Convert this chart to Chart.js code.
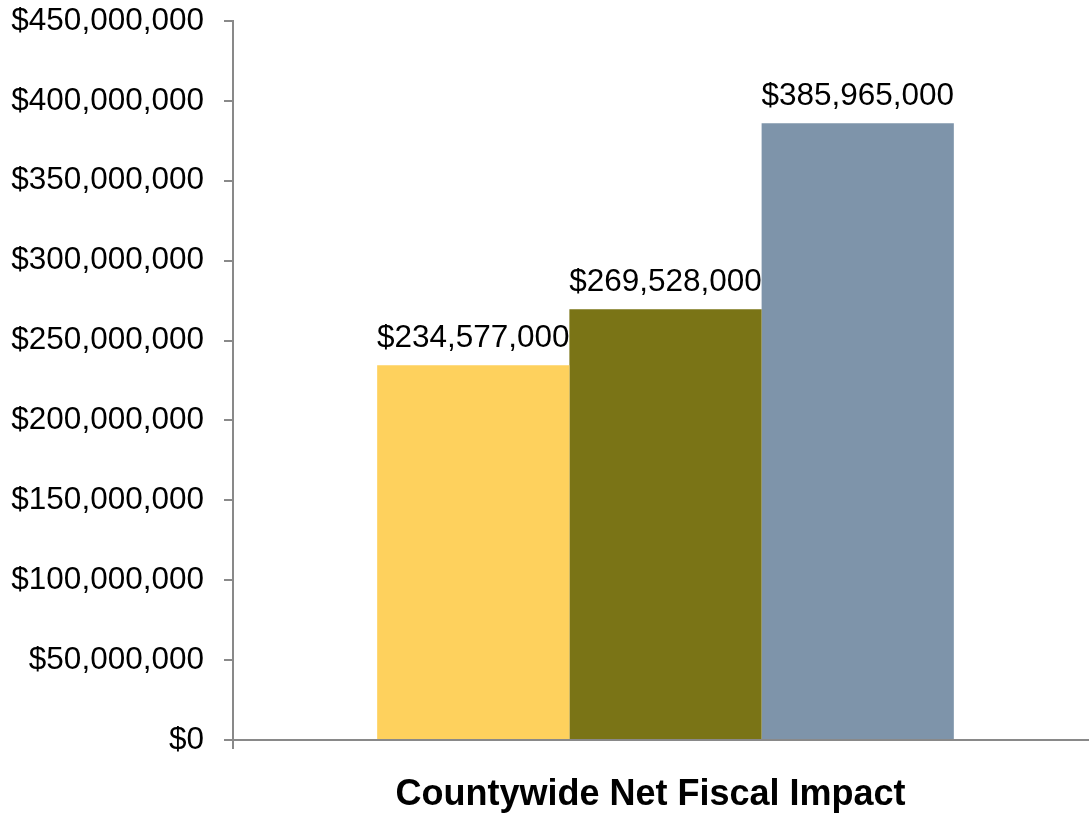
<!DOCTYPE html>
<html>
<head>
<meta charset="utf-8">
<script src="https://cdn.jsdelivr.net/npm/chart.js@4.4.1/dist/chart.umd.min.js"></script>
<style>
  html, body { margin: 0; padding: 0; background: #ffffff; overflow: hidden; }
  #wrap { width: 1098px; height: 814px; }
</style>
</head>
<body>
<div id="wrap"><canvas id="fiscalChart"></canvas></div>
<script>
// Data
const categories = ['Countywide Net Fiscal Impact'];
const seriesNames = ['Scenario 1', 'Scenario 2', 'Scenario 3'];
const seriesValues = [234577000, 269528000, 385965000];
const seriesColors = ['#FED15D', '#7A7416', '#7E94AA'];
const yTicks = [0, 50000000, 100000000, 150000000, 200000000, 250000000, 300000000, 350000000, 400000000, 450000000];

const axisGrey = '#898989';
const fmtMoney = (v) => '$' + Number(v).toLocaleString('en-US');

// Value labels above each bar
const barValueLabels = {
  id: 'barValueLabels',
  afterDatasetsDraw(chart) {
    const ctx = chart.ctx;
    ctx.save();
    ctx.font = '31.5px "Liberation Sans", Arial, sans-serif';
    ctx.fillStyle = '#000000';
    ctx.textAlign = 'center';
    ctx.textBaseline = 'alphabetic';
    chart.data.datasets.forEach((ds, i) => {
      chart.getDatasetMeta(i).data.forEach((bar, j) => {
        ctx.fillText(fmtMoney(ds.data[j]), bar.x, bar.y - 18);
      });
    });
    ctx.restore();
  }
};

const datasets = seriesNames.map((name, i) => ({
  label: name,
  data: [seriesValues[i]],
  backgroundColor: seriesColors[i],
  borderWidth: 0,
  barPercentage: 1,
  categoryPercentage: 2 / 3
}));

const ctx = document.getElementById('fiscalChart').getContext('2d');
new Chart(ctx, {
  type: 'bar',
  data: { labels: categories, datasets: datasets },
  plugins: [barValueLabels],
  options: {
    responsive: true,
    maintainAspectRatio: false,
    animation: false,
    layout: { padding: { top: 21, left: 0, right: 0, bottom: 0 } },
    plugins: {
      legend: { display: false },
      tooltip: { enabled: false }
    },
    scales: {
      x: {
        grid: { drawOnChartArea: false, drawTicks: true, tickLength: 9, color: axisGrey, lineWidth: 2 },
        border: { display: true, color: axisGrey, width: 2 },
        ticks: {
          color: '#000000',
          padding: 24,
          labelOffset: -15,
          font: { family: '"Liberation Sans", Arial, sans-serif', size: 36, weight: 'bold' }
        },
        afterFit: (axis) => {
          axis.height = 74;
          axis.paddingLeft = 0;
          axis.paddingRight = 0;
        }
      },
      y: {
        min: 0,
        max: 450000000,
        afterBuildTicks: (axis) => { axis.ticks = yTicks.map((v) => ({ value: v })); },
        grid: { drawOnChartArea: false, drawTicks: true, tickLength: 9, color: axisGrey, lineWidth: 2 },
        border: { display: true, color: axisGrey, width: 2 },
        ticks: {
          color: '#000000',
          padding: 20,
          font: { family: '"Liberation Sans", Arial, sans-serif', size: 31.5 },
          callback: (v) => fmtMoney(v)
        },
        afterFit: (axis) => {
          axis.width = 233;
          axis.paddingTop = 0;
          axis.paddingBottom = 0;
        }
      }
    }
  }
});
</script>
</body>
</html>
